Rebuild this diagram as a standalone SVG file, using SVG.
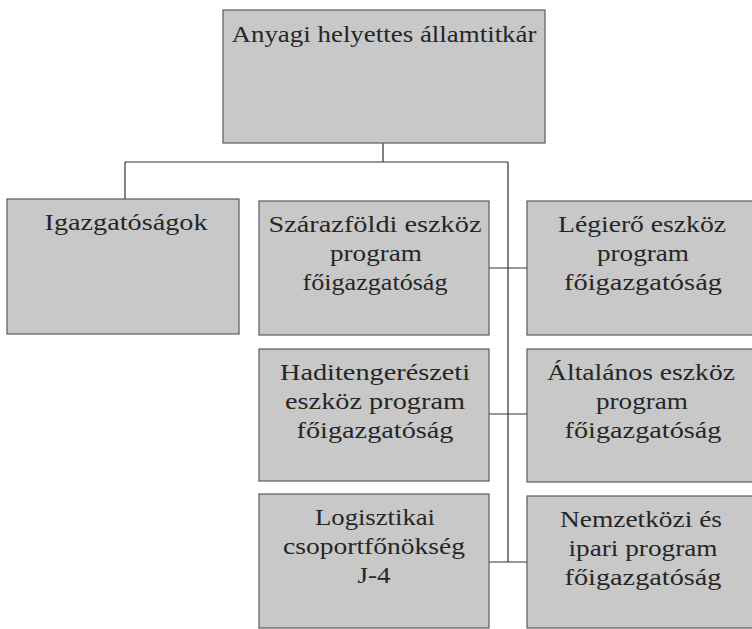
<svg xmlns="http://www.w3.org/2000/svg" width="752" height="629" viewBox="0 0 752 629">
<style>
.box{fill:#c8c8c8;stroke:#5a5a5a;stroke-width:1.2}
.t{font-family:"Liberation Serif","Times New Roman",serif;font-size:24px;fill:#262626;text-anchor:middle}
.c{stroke:#333;stroke-width:1.2;fill:none}
</style>
<rect width="752" height="629" fill="#ffffff"/>
<g id="connectors">
<path class="c" d="M383,143V162M125,162H508M125,162V199M508,162V562M489,268H527M489,414H527M489,562H527"/>
</g>
<g id="n-top">
<rect class="box" x="223" y="10" width="322" height="133"/>
<text class="t" x="384" y="42" textLength="305" lengthAdjust="spacingAndGlyphs">Anyagi helyettes államtitkár</text>
</g>
<g id="n-igaz">
<rect class="box" x="7" y="199" width="232" height="135"/>
<text class="t" x="126" y="230" textLength="163" lengthAdjust="spacingAndGlyphs">Igazgatóságok</text>
</g>
<g id="n-szaraz">
<rect class="box" x="259" y="201" width="230" height="134"/>
<text class="t" x="375" y="232" textLength="213" lengthAdjust="spacingAndGlyphs">Szárazföldi eszköz</text>
<text class="t" x="376" y="261" textLength="92" lengthAdjust="spacingAndGlyphs">program</text>
<text class="t" x="375" y="290" textLength="145" lengthAdjust="spacingAndGlyphs">főigazgatóság</text>
</g>
<g id="n-legiero">
<rect class="box" x="527" y="201" width="240" height="134"/>
<text class="t" x="642" y="232" textLength="168" lengthAdjust="spacingAndGlyphs">Légierő eszköz</text>
<text class="t" x="643" y="261" textLength="92" lengthAdjust="spacingAndGlyphs">program</text>
<text class="t" x="643" y="290" textLength="158" lengthAdjust="spacingAndGlyphs">főigazgatóság</text>
</g>
<g id="n-hadi">
<rect class="box" x="259" y="349" width="230" height="132"/>
<text class="t" x="375" y="380" textLength="190" lengthAdjust="spacingAndGlyphs">Haditengerészeti</text>
<text class="t" x="375" y="409" textLength="180" lengthAdjust="spacingAndGlyphs">eszköz program</text>
<text class="t" x="375" y="438" textLength="157" lengthAdjust="spacingAndGlyphs">főigazgatóság</text>
</g>
<g id="n-altalanos">
<rect class="box" x="527" y="349" width="240" height="133"/>
<text class="t" x="641" y="380" textLength="188" lengthAdjust="spacingAndGlyphs">Általános eszköz</text>
<text class="t" x="642" y="409" textLength="92" lengthAdjust="spacingAndGlyphs">program</text>
<text class="t" x="643" y="438" textLength="157" lengthAdjust="spacingAndGlyphs">főigazgatóság</text>
</g>
<g id="n-logiszt">
<rect class="box" x="259" y="494" width="230" height="134"/>
<text class="t" x="375" y="525" textLength="120" lengthAdjust="spacingAndGlyphs">Logisztikai</text>
<text class="t" x="374" y="554" textLength="182" lengthAdjust="spacingAndGlyphs">csoportfőnökség</text>
<text class="t" x="374" y="583" textLength="33" lengthAdjust="spacingAndGlyphs">J-4</text>
</g>
<g id="n-nemzet">
<rect class="box" x="527" y="496" width="240" height="132"/>
<text class="t" x="641" y="527" textLength="162" lengthAdjust="spacingAndGlyphs">Nemzetközi és</text>
<text class="t" x="643" y="556" textLength="149" lengthAdjust="spacingAndGlyphs">ipari program</text>
<text class="t" x="643" y="585" textLength="157" lengthAdjust="spacingAndGlyphs">főigazgatóság</text>
</g>
</svg>
